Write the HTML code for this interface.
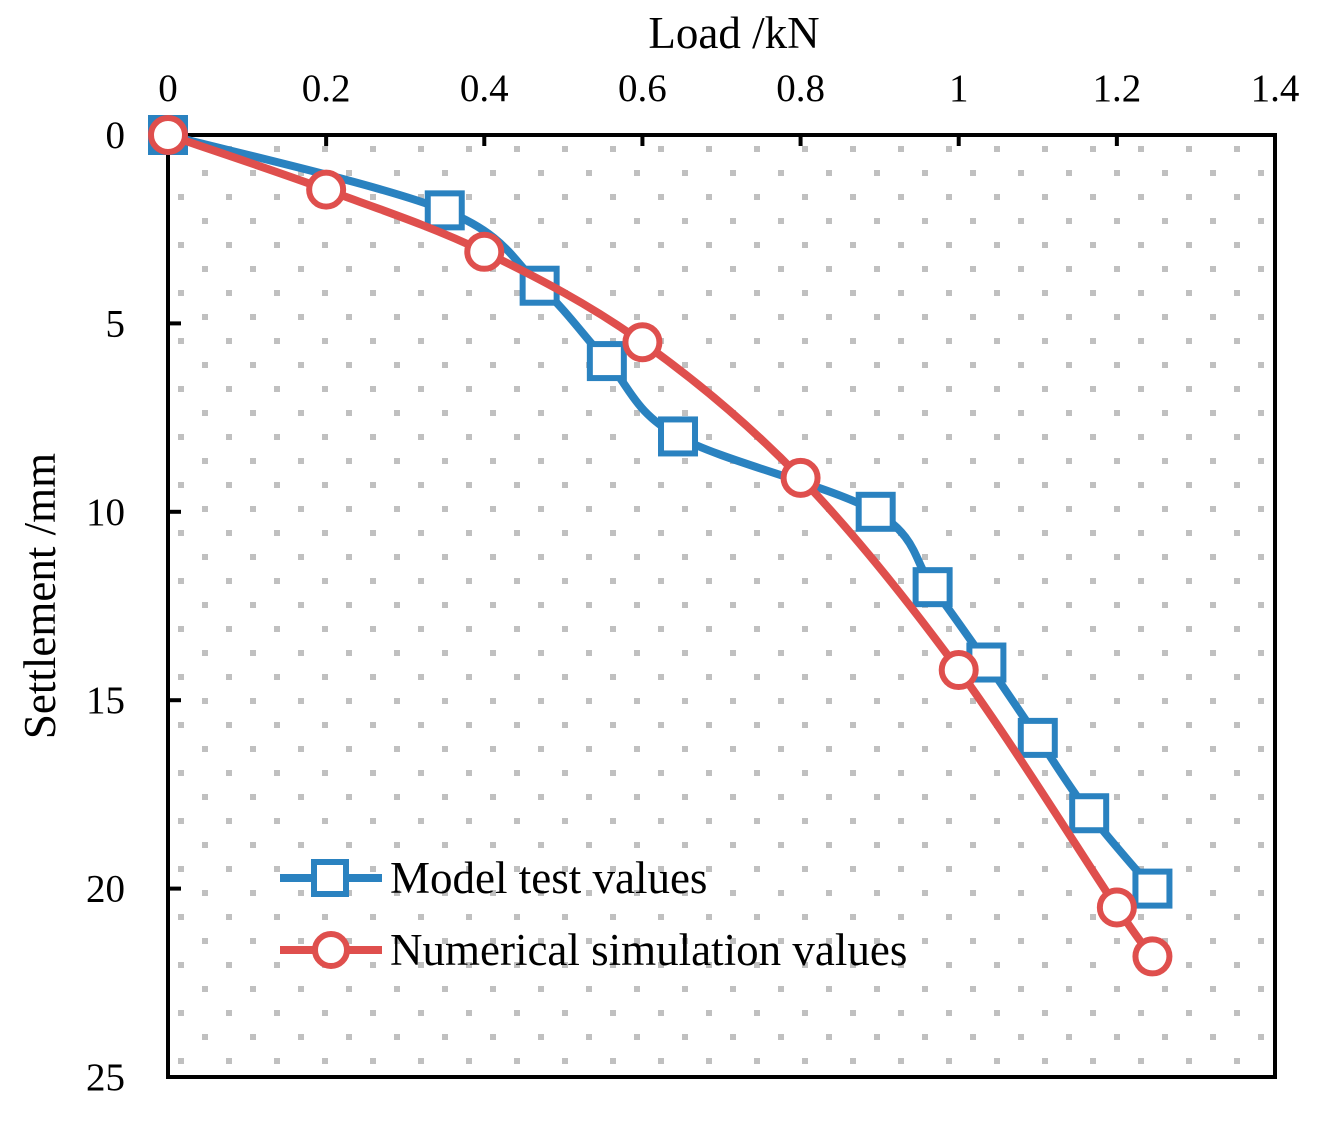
<!DOCTYPE html>
<html><head><meta charset="utf-8"><style>body{margin:0;background:#fff}svg{display:block}text{font-family:"Liberation Serif",serif;fill:#000}</style></head>
<body>
<svg id="c" width="1319" height="1122">
<defs><pattern id="dots" patternUnits="userSpaceOnUse" x="178" y="146" width="48" height="48">
<rect x="0" y="0" width="6" height="6" fill="#c0c0c0"/><rect x="24" y="24" width="6" height="6" fill="#c0c0c0"/></pattern></defs>
<rect x="168" y="135" width="1107" height="942" fill="url(#dots)"/>
<g id="axes"></g><g id="series"></g><g id="legend"></g>
</svg>
<script>
const xTicks=[0,0.2,0.4,0.6,0.8,1,1.2,1.4];
const yTicks=[0,5,10,15,20,25];
const modelLoad=[0,0.35,0.47,0.555,0.645,0.895,0.967,1.035,1.1,1.165,1.245];
const modelSettle=[0,2,4,6,8,10,12,14,16,18,20];
const simLoad=[0,0.2,0.4,0.6,0.8,1.0,1.2,1.245];
const simSettle=[0,1.45,3.1,5.5,9.1,14.2,20.5,21.8];
const NS="http://www.w3.org/2000/svg";
const X0=168,X1=1275,Y0=135,Y1=1077;
const sx=v=>X0+v/1.4*(X1-X0), sy=v=>Y0+v/25*(Y1-Y0);
function mk(p,t,a){const e=document.createElementNS(NS,t);for(const k in a)e.setAttribute(k,a[k]);p.appendChild(e);return e;}
const ax=document.getElementById('axes');
const frame=mk(ax,'rect',{x:X0,y:Y0,width:X1-X0,height:Y1-Y0,fill:'none',stroke:'#000','stroke-width':4});


xTicks.forEach(v=>{const x=sx(v);
 const t=mk(ax,'line',{x1:x,x2:x,y1:Y0,y2:Y0+11,stroke:'#000','stroke-width':4});
 
 
 const l=mk(ax,'text',{x:x,y:101,'text-anchor':'middle','font-size':39});l.textContent=String(v);
 
 });
yTicks.forEach(v=>{const y=sy(v);
 const t=mk(ax,'line',{x1:X0,x2:X0+13,y1:y,y2:y,stroke:'#000','stroke-width':4});
 
 
 const l=mk(ax,'text',{x:125,y:y+13,'text-anchor':'end','font-size':39});l.textContent=String(v);
 
 });
const xt=mk(ax,'text',{x:734,y:48,'text-anchor':'middle','font-size':45});xt.textContent='Load /kN';


const yt=mk(ax,'text',{x:0,y:0,'text-anchor':'middle','font-size':45,transform:'translate(55,596) rotate(-90)'});yt.textContent='Settlement /mm';


function smooth(pts){let d=`M${pts[0][0]},${pts[0][1]}`;
 for(let i=0;i<pts.length-1;i++){const p0=pts[i-1]||pts[i],p1=pts[i],p2=pts[i+1],p3=pts[i+2]||p2;
  d+=` C${p1[0]+(p2[0]-p0[0])/6},${p1[1]+(p2[1]-p0[1])/6} ${p2[0]-(p3[0]-p1[0])/6},${p2[1]-(p3[1]-p1[1])/6} ${p2[0]},${p2[1]}`;}
 return d;}
const sg=document.getElementById('series');
function series(xs,ys,col,shape,name){
 const pts=xs.map((v,i)=>[sx(v),sy(ys[i])]);
 const p=mk(sg,'path',{d:smooth(pts),fill:'none',stroke:col,'stroke-width':8});
 
 
 pts.forEach(q=>{let m;
  if(shape==='sq')m=mk(sg,'rect',{x:q[0]-17,y:q[1]-17,width:34,height:34,fill:'#fff',stroke:col,'stroke-width':6});
  else m=mk(sg,'circle',{cx:q[0],cy:q[1],r:17,fill:'#fff',stroke:col,'stroke-width':6});
  
  });}
series(modelLoad,modelSettle,'#2a82c0','sq','model-test');
series(simLoad,simSettle,'#df4f4d','ci','numerical-simulation');
const lg=document.getElementById('legend');
[[878,'#2a82c0','sq','Model test values','legend-model-test'],[950,'#df4f4d','ci','Numerical simulation values','legend-numerical-simulation']].forEach(e=>{
 const g=mk(lg,'g',{});
 
 
 mk(g,'line',{x1:280,x2:382,y1:e[0],y2:e[0],stroke:e[1],'stroke-width':8});
 if(e[2]==='sq')mk(g,'rect',{x:314,y:e[0]-16,width:32,height:32,fill:'#fff',stroke:e[1],'stroke-width':6});
 else mk(g,'circle',{cx:331,cy:e[0],r:16,fill:'#fff',stroke:e[1],'stroke-width':6});
 const t=mk(g,'text',{x:390,y:e[0]+15,'font-size':45});t.textContent=e[3];});
</script>
</body></html>
